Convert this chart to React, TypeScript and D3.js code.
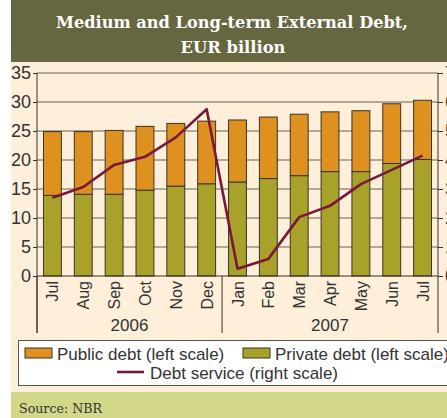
import React, { useEffect, useRef } from "react";
import * as d3 from "d3";

// chart data
const months = ["Jul", "Aug", "Sep", "Oct", "Nov", "Dec", "Jan", "Feb", "Mar", "Apr", "May", "Jun", "Jul"];
const years = [
  { label: "2006", from: 0, to: 6 },
  { label: "2007", from: 6, to: 13 },
];
const privateDebt = [13.9, 14.1, 14.1, 14.8, 15.5, 15.9, 16.2, 16.8, 17.3, 18.0, 18.0, 19.4, 20.1];
const publicDebt = [11.0, 10.8, 11.0, 11.0, 10.8, 10.8, 10.7, 10.6, 10.6, 10.3, 10.5, 10.3, 10.2];
const debtService = [2.7, 3.07, 3.83, 4.11, 4.78, 5.75, 0.25, 0.59, 2.03, 2.42, 3.17, 3.66, 4.15];
const leftTicks = [0, 5, 10, 15, 20, 25, 30, 35];
const rightTicks = [0, 1, 2, 3, 4, 5, 6, 7];

const W = 447,
  H = 418;
const COL_PUBLIC = "#df911f";
const COL_PRIVATE = "#a9a22a";
const COL_LINE = "#7a1838";
const SANS = "'Liberation Sans', Arial, sans-serif";
const SERIF = "'DejaVu Serif', serif";

function App() {
  const ref = useRef<SVGSVGElement>(null);

  useEffect(() => {
    const svg = d3.select(ref.current);
    svg.selectAll("*").remove();

    const margin = { top: 73, left: 37, right: 438, bottom: 276 };

    // backgrounds
    svg.append("rect").attr("width", W).attr("height", H).attr("fill", "#fff");
    svg.append("rect").attr("x", 11).attr("width", W - 11).attr("height", H).attr("fill", "#fdefd9");
    svg.append("rect").attr("x", 11).attr("width", W - 11).attr("height", 62).attr("fill", "#666640");
    svg.append("rect").attr("x", 11).attr("y", 392).attr("width", W - 11).attr("height", 26).attr("fill", "#d3d78a");

    // title
    const title = svg
      .append("text")
      .attr("fill", "#fff")
      .attr("font-family", SERIF)
      .attr("font-weight", "bold")
      .attr("font-size", 17)
      .attr("text-anchor", "middle");
    title.append("tspan").attr("x", 232).attr("y", 28).attr("textLength", 352).attr("lengthAdjust", "spacingAndGlyphs").text("Medium and Long-term External Debt,");
    title.append("tspan").attr("x", 233).attr("y", 53).attr("textLength", 105).attr("lengthAdjust", "spacingAndGlyphs").text("EUR billion");

    svg
      .append("text")
      .attr("x", 19)
      .attr("y", 413)
      .attr("fill", "#333")
      .attr("font-family", SERIF)
      .attr("font-size", 13)
      .attr("textLength", 83)
      .attr("lengthAdjust", "spacingAndGlyphs")
      .text("Source: NBR");

    // scales
    const x = d3
      .scaleBand<number>()
      .domain(d3.range(months.length))
      .range([margin.left, margin.right])
      .paddingInner(0.42)
      .paddingOuter(0.21);
    const y = d3.scaleLinear().domain([0, 35]).range([margin.bottom, margin.top]);
    const y2 = d3.scaleLinear().domain([0, 7]).range([margin.bottom, margin.top]);

    // gridlines
    svg
      .append("g")
      .selectAll("line")
      .data(leftTicks.slice(1))
      .enter()
      .append("line")
      .attr("x1", margin.left)
      .attr("x2", margin.right)
      .attr("y1", (d) => y(d))
      .attr("y2", (d) => y(d))
      .attr("stroke", "#6b6256")
      .attr("stroke-width", 1.1);

    // stacked bars
    const bars = svg.append("g").attr("stroke", "#3a3328").attr("stroke-width", 1);
    bars
      .selectAll("rect.priv")
      .data(privateDebt)
      .enter()
      .append("rect")
      .attr("class", "priv")
      .attr("x", (d, i) => x(i)!)
      .attr("width", x.bandwidth())
      .attr("y", (d) => y(d))
      .attr("height", (d) => y(0) - y(d))
      .attr("fill", COL_PRIVATE);
    bars
      .selectAll("rect.pub")
      .data(publicDebt)
      .enter()
      .append("rect")
      .attr("class", "pub")
      .attr("x", (d, i) => x(i)!)
      .attr("width", x.bandwidth())
      .attr("y", (d, i) => y(d + privateDebt[i]))
      .attr("height", (d, i) => y(privateDebt[i]) - y(d + privateDebt[i]))
      .attr("fill", COL_PUBLIC);

    // debt service line (right scale)
    const line = d3
      .line<number>()
      .x((d, i) => x(i)! + x.bandwidth() / 2)
      .y((d) => y2(d));
    svg
      .append("path")
      .datum(debtService)
      .attr("d", line)
      .attr("fill", "none")
      .attr("stroke", COL_LINE)
      .attr("stroke-width", 2.6)
      .attr("stroke-linejoin", "round");

    // axes
    const axisColor = "#3a3328";
    const leftAxis = svg
      .append("g")
      .attr("transform", `translate(${margin.left},0)`)
      .call(d3.axisLeft(y).tickValues(leftTicks).tickSize(4).tickPadding(2));
    const rightAxis = svg
      .append("g")
      .attr("transform", `translate(${margin.right},0)`)
      .call(d3.axisRight(y2).tickValues(rightTicks).tickSize(5).tickPadding(2));
    [leftAxis, rightAxis].forEach((g) => {
      g.select(".domain").remove();
      g.selectAll(".tick line").attr("stroke", axisColor);
      g.selectAll(".tick text").attr("fill", "#333").attr("font-family", SANS).attr("font-size", 18);
    });
    // vertical axis lines run down to the year row
    [margin.left, margin.right].forEach((xx) => {
      svg.append("line").attr("x1", xx).attr("x2", xx).attr("y1", margin.top).attr("y2", 333).attr("stroke", axisColor);
    });
    svg
      .append("line")
      .attr("x1", margin.left)
      .attr("x2", margin.right)
      .attr("y1", margin.bottom)
      .attr("y2", margin.bottom)
      .attr("stroke", axisColor)
      .attr("stroke-width", 1.2);

    // month labels, rotated
    svg
      .append("g")
      .selectAll("text")
      .data(months)
      .enter()
      .append("text")
      .attr("transform", (d, i) => `translate(${x(i)! + x.bandwidth() / 2 + 6},281) rotate(-90)`)
      .attr("text-anchor", "end")
      .attr("font-family", SANS)
      .attr("font-size", 16)
      .attr("fill", "#333")
      .text((d) => d);

    // year groups
    years.forEach((yr) => {
      const x0 = yr.from === 0 ? margin.left : x(yr.from)! - (x.step() - x.bandwidth()) / 2;
      const x1 = yr.to === months.length ? margin.right : x(yr.to)! - (x.step() - x.bandwidth()) / 2;
      svg.append("line").attr("x1", x0).attr("x2", x0).attr("y1", margin.bottom).attr("y2", 333).attr("stroke", axisColor);
      svg
        .append("text")
        .attr("x", (x0 + x1) / 2)
        .attr("y", 331)
        .attr("text-anchor", "middle")
        .attr("font-family", SANS)
        .attr("font-size", 17)
        .attr("fill", "#333")
        .text(yr.label);
    });

    // legend
    const lg = svg.append("g");
    lg.append("rect").attr("x", 18.5).attr("y", 340.5).attr("width", 440).attr("height", 45).attr("fill", "#fff").attr("stroke", "#555");
    const items = [
      { label: "Public debt (left scale)", color: COL_PUBLIC, x: 25, y: 348 },
      { label: "Private debt (left scale)", color: COL_PRIVATE, x: 243, y: 348 },
    ];
    items.forEach((it) => {
      lg.append("rect").attr("x", it.x).attr("y", it.y).attr("width", 27).attr("height", 10).attr("fill", it.color).attr("stroke", "#3a3328");
      lg.append("text")
        .attr("x", it.x + 32)
        .attr("y", it.y + 12)
        .attr("font-family", SANS)
        .attr("font-size", 17)
        .attr("fill", "#333")
        .text(it.label);
    });
    lg.append("line").attr("x1", 117).attr("x2", 144).attr("y1", 372).attr("y2", 372).attr("stroke", COL_LINE).attr("stroke-width", 2.6);
    lg.append("text")
      .attr("x", 150)
      .attr("y", 379)
      .attr("font-family", SANS)
      .attr("font-size", 17)
      .attr("fill", "#333")
      .text("Debt service (right scale)");
  }, []);

  return <svg ref={ref} width={W} height={H} style={{ position: "absolute", left: 0, top: 0 }} />;
}

export default App;
